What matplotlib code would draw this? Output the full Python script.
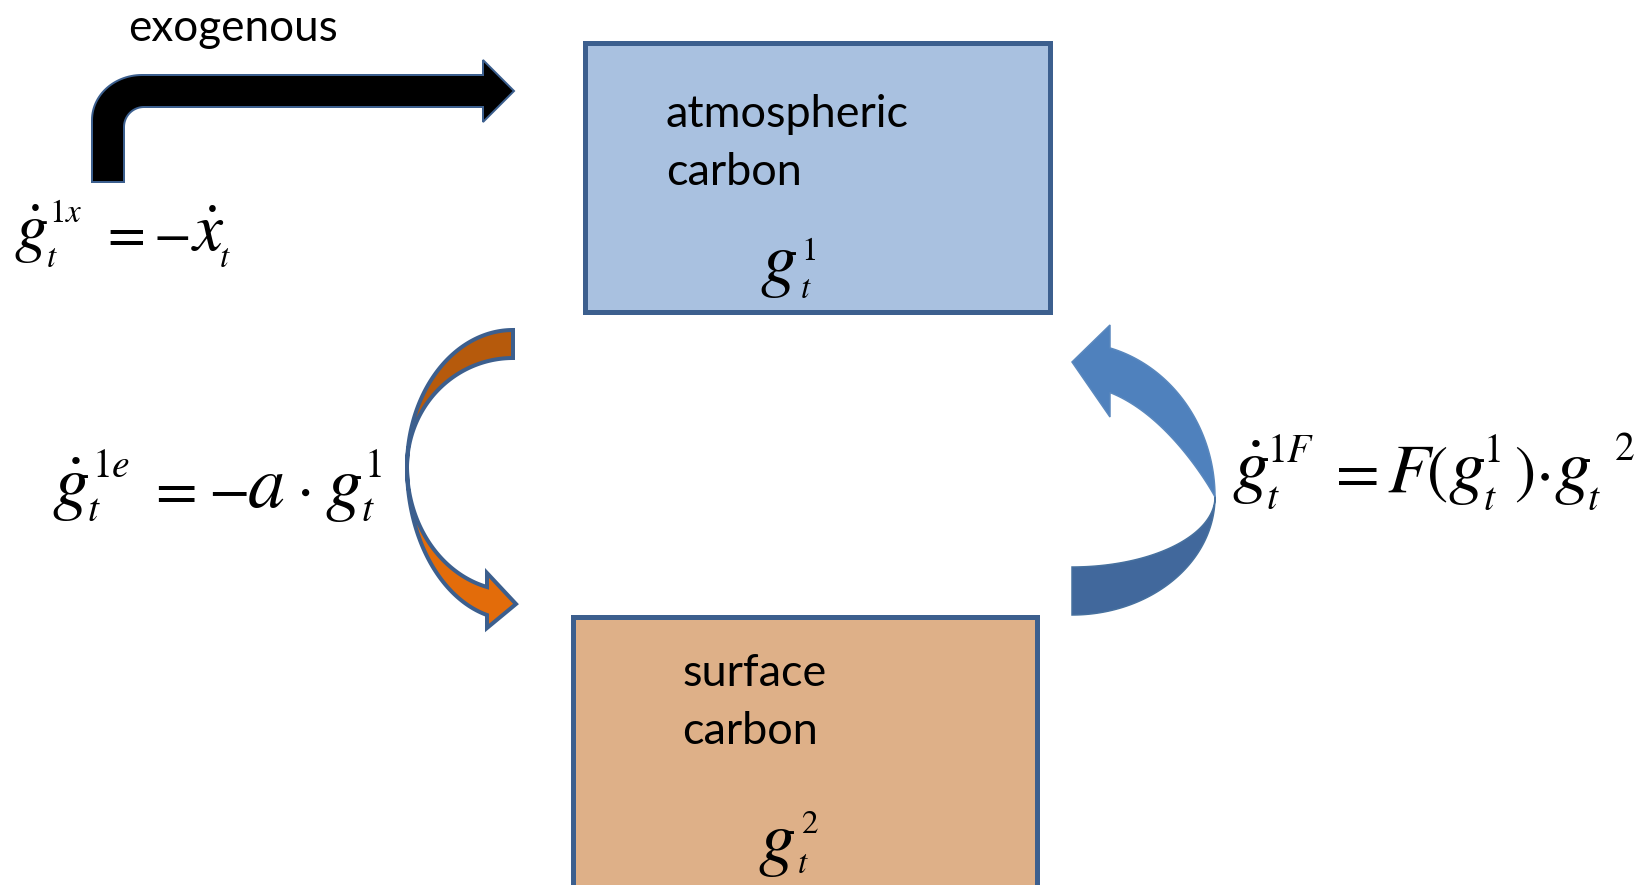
import numpy as np
import matplotlib
matplotlib.use("Agg")
import matplotlib.pyplot as plt
from matplotlib.patches import Polygon, Rectangle

plt.rcParams["mathtext.fontset"] = "stix"
plt.rcParams["font.family"] = ["Lato", "DejaVu Sans"]

# ---------------- content ----------------
exo_label = "exogenous"
box_titles = [["atmospheric", "carbon"], ["surface", "carbon"]]
box_fills = ["#A9C1E0", "#DEB088"]
edge_blue = "#3C5F8E"

L, S, O = 1.35, 1.1, 1.1   # size factors: letters, scripts, operators
# equation pieces: (text, center x, baseline y, size px)
eq1 = [(r"$\dot{g}$", 31, 250, 50 * L), (r"$1x$", 66, 222, 30 * S), (r"$t$", 52, 267, 30 * S),
       (r"$=$", 122, 250, 50 * O), (r"$-$", 171, 250, 50 * O), (r"$\dot{x}$", 208, 251, 50 * L),
       (r"$t$", 225, 267, 30 * S)]
eq2 = [(r"$\dot{g}$", 70, 507, 55 * L), (r"$1e$", 111, 477, 36 * S), (r"$t$", 94, 521, 36 * S),
       (r"$=$", 172, 507, 55 * O), (r"$-$", 228, 507, 55 * O), (r"$a$", 266, 507, 55 * L),
       (r"$\cdot$", 303, 507, 55 * O), (r"$g$", 343, 507, 55 * L), (r"$1$", 373, 477, 36 * S),
       (r"$t$", 368, 521, 36 * S)]
eq3 = [(r"$\dot{g}$", 1250, 490, 55 * L), (r"$1F$", 1291, 462, 36 * S), (r"$t$", 1273, 509, 36 * S),
       (r"$=$", 1352, 491, 58 * O), (r"$F$", 1411, 492, 52 * L), (r"$($", 1437, 491, 58 * O),
       (r"$g$", 1466, 490, 55 * L), (r"$1$", 1492, 462, 36 * S), (r"$t$", 1490, 510, 36 * S),
       (r"$)$", 1524, 491, 58 * O), (r"$\cdot$", 1542, 491, 58 * O), (r"$g$", 1572, 490, 55 * L),
       (r"$2$", 1624, 460, 36 * S), (r"$t$", 1594, 510, 36 * S)]
box_math = [[(r"$g$", 778, 283, 55 * L), (r"$1$", 809, 260, 30 * S), (r"$t$", 806, 298, 30 * S)],
            [(r"$g$", 776, 862, 55 * L), (r"$2$", 810, 833, 30 * S), (r"$t$", 803, 873, 30 * S)]]

# ---------------- figure ----------------
W, H = 1648, 885
fig = plt.figure(figsize=(W / 100, H / 100), dpi=100)
ax = fig.add_axes([0, 0, 1, 1])
ax.set_xlim(0, W)
ax.set_ylim(H, 0)
ax.axis("off")
PT = 0.72  # px -> pt at 100 dpi


def put(s, x, y, px, ha="center", **kw):
    ax.text(x, y, s, fontsize=px * PT, ha=ha, va="baseline", color="black", **kw)


# boxes (outer extents)
box_geo = [(583, 40, 1053, 314), (571, 614, 1040, 905)]
bw = 5
for (x0, y0, x1, y1), fc in zip(box_geo, box_fills):
    ax.add_patch(Rectangle((x0 + bw / 2, y0 + bw / 2), x1 - x0 - bw, y1 - y0 - bw,
                           facecolor=fc, edgecolor=edge_blue, lw=bw * PT, zorder=1))

# box titles
title_pos = [(666, 127, 58), (682, 686, 58)]
for lines, (x, y, dy) in zip(box_titles, title_pos):
    for i, line in enumerate(lines):
        put(line, x, y + i * dy, 45, ha="left", zorder=3)
put(exo_label, 128, 41, 44, ha="left")

for pieces in [eq1, eq2, eq3] + box_math:
    for s, x, y, px in pieces:
        put(s, x, y, px, zorder=4)


def arc(cx, cy, rx, ry, a0, a1, n=30):
    t = np.radians(np.linspace(a0, a1, n))
    return list(zip(cx + rx * np.cos(t), cy + ry * np.sin(t)))


# black bent arrow
Rox, Roy, Ri = 50, 45, 20
sx0, sx1, sy0, sy1 = 92, 124, 75, 107
pts = [(sx0, 182)] + arc(sx0 + Rox, sy0 + Roy, Rox, Roy, 180, 270) + \
      [(483, sy0), (483, 60), (514, 91), (483, 122), (483, sy1)] + \
      arc(sx1 + Ri, sy1 + Ri, Ri, Ri, 270, 180) + [(sx1, 182)]
ax.add_patch(Polygon(pts, closed=True, facecolor="black", edgecolor=edge_blue,
                     lw=2 * PT, joinstyle="miter", zorder=2))


def ell(cx, cy, rx, ry, a0, a1, sx=-1, sy=1, p=1.0, n=80):
    a = np.radians(np.linspace(a0, a1, n))
    return list(zip(cx + sx * rx * np.cos(a), cy + sy * ry * np.sin(a) ** p))


# orange curved arrow
ocx, ocy, orx = 513, 467, 106
up = ell(ocx, ocy, orx, 137, 90, 0, sy=-1) + ell(ocx, ocy, orx, 109, 0, 90, sy=-1)
ax.add_patch(Polygon(up, closed=True, facecolor="#B65A0C", edgecolor=edge_blue,
                     lw=4 * PT, zorder=2))
aend = np.degrees(np.arccos((ocx - 487) / orx))
lo = ell(ocx, ocy, orx, 152.7, 0, aend) + [(487, 628), (516, 604), (487, 573)] + \
     ell(ocx, ocy, orx, 123.8, aend, 0)
ax.add_patch(Polygon(lo, closed=True, facecolor="#E36C0A", edgecolor=edge_blue,
                     lw=4 * PT, joinstyle="miter", zorder=2))

# blue curved arrow
bcx, bcy, brx = 1072, 497, 143
lo_b = ell(bcx, bcy, brx, 118, 90, 0, sx=1) + ell(bcx, bcy, brx, 70, 0, 90, sx=1)
ax.add_patch(Polygon(lo_b, closed=True, facecolor="#41689C", edgecolor="#47719F",
                     lw=1.5 * PT, zorder=2))
bend = np.degrees(np.arccos((1110 - bcx) / brx))
up_b = ell(bcx, bcy, brx, 154.6, 0, bend, sx=1, sy=-1) + \
       [(1110, 325), (1072, 362), (1110, 417)] + \
       ell(bcx, bcy, brx, 112, bend, 0, sx=1, sy=-1, p=1.9)
ax.add_patch(Polygon(up_b, closed=True, facecolor="#4F81BD", edgecolor="#5A88BE",
                     lw=1.5 * PT, zorder=2))

fig.savefig("out.png", dpi=100, facecolor="white")
